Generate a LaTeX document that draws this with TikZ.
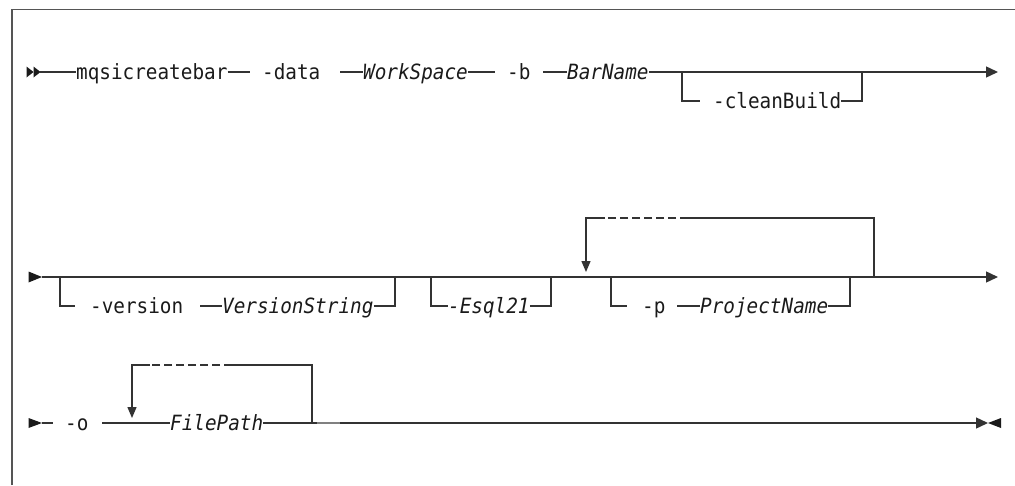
\documentclass[tikz,border=0pt]{standalone}
\usepackage{fontspec}
\newfontfamily\rrfont[FakeStretch=0.92]{DejaVu Sans Mono}
\usetikzlibrary{arrows.meta}
\definecolor{ln}{HTML}{333333}
\definecolor{tx}{HTML}{1A1A1A}
\definecolor{fr}{HTML}{555555}
\tikzset{
  kw/.style={font=\rrfont\fontsize{21}{24}\selectfont, text=tx, inner sep=0pt, text height=14pt, text depth=0pt, anchor=west},
  var/.style={kw, font=\rrfont\itshape\fontsize{21}{24}\selectfont},
  rail/.style={draw=ln, line width=1.4pt},
  endarrow/.style={rail, -{Triangle[width=11pt,length=12pt]}},
  downarrow/.style={rail, -{Triangle[width=9pt,length=11pt]}},
  dashes/.style={draw=ln, line width=2pt, dash pattern=on 8pt off 4pt},
  tip/.style={fill=tx},
}
\begin{document}
\begin{tikzpicture}[x=1pt,y=-1pt]
\useasboundingbox (0,0) rectangle (1015,485);
% frame
\draw[fr, line width=1.4pt] (12,485) -- (12,9.5) -- (1015,9.5);

% ---------- row 1 ----------
\fill[tip] (26.5,66.5) -- (33.5,72) -- (26.5,77.5) -- cycle;
\fill[tip] (33.5,66.5) -- (40.5,72) -- (33.5,77.5) -- cycle;
\coordinate (s1) at (40,72);
\node[kw] (mq) at (76,72) {mqsicreatebar};
\coordinate (d0) at (250,72);
\node[kw] (data) at (262,72) {-data};
\coordinate (w0) at (340,72);
\node[var] (ws) at (363,72) {WorkSpace};
\coordinate (b0) at (495,72);
\node[kw] (b) at (507,72) {-b};
\coordinate (bn0) at (543,72);
\node[var] (bn) at (567,72) {BarName};
\coordinate (e1) at (998,72);
\draw[rail] (s1) -- (mq.west);
\draw[rail] (mq.east) -- (d0);
\draw[rail] (w0) -- (ws.west);
\draw[rail] (ws.east) -- (b0);
\draw[rail] (bn0) -- (bn.west);
\draw[endarrow] (bn.east) -- (e1);
% optional -cleanBuild
\coordinate (cb1) at (682,72);
\coordinate (cb2) at (862,72);
\coordinate (cbL) at (700,101);
\node[kw] (cb) at (713,101) {-cleanBuild};
\draw[rail] (cb1) |- (cbL);
\draw[rail] (cb.east) -| (cb2);

% ---------- row 2 ----------
\fill[tip] (28.5,271.5) -- (42,277) -- (28.5,282.5) -- cycle;
\coordinate (s2) at (42,277);
\coordinate (e2) at (998,277);
\draw[endarrow] (s2) -- (e2);
% -version
\coordinate (v1) at (60,277);
\coordinate (vL) at (75,306);
\node[kw] (ver) at (90,306) {-version};
\coordinate (vs0) at (200,306);
\node[var] (vs) at (222,306) {VersionString};
\coordinate (v2) at (395,277);
\draw[rail] (v1) |- (vL);
\draw[rail] (vs0) -- (vs.west);
\draw[rail] (vs.east) -| (v2);
% -Esql21
\coordinate (E1) at (431,277);
\node[var] (esql) at (448,306) {-Esql21};
\coordinate (E2) at (551,277);
\draw[rail] (E1) |- (esql.west);
\draw[rail] (esql.east) -| (E2);
% repeat loop
\coordinate (L1) at (586,272);
\coordinate (Ld1) at (605,218);
\coordinate (Ld2) at (688,218);
\coordinate (L2) at (874,277);
\draw[rail] (L2) |- (Ld2);
\draw[dashes] (Ld2) -- (Ld1);
\draw[downarrow] (Ld1) -| (L1);
% -p ProjectName
\coordinate (P1) at (611,277);
\coordinate (PL) at (627,306);
\node[kw] (p) at (642,306) {-p};
\coordinate (pn0) at (677,306);
\node[var] (pn) at (700,306) {ProjectName};
\coordinate (P2) at (850,277);
\draw[rail] (P1) |- (PL);
\draw[rail] (pn0) -- (pn.west);
\draw[rail] (pn.east) -| (P2);

% ---------- row 3 ----------
\fill[tip] (28.5,418) -- (42,423) -- (28.5,428) -- cycle;
\coordinate (s3) at (42,423);
\coordinate (s3b) at (53,423);
\draw[rail] (s3) -- (s3b);
\node[kw] (o) at (65,423) {-o};
\coordinate (f0) at (102,423);
\node[var] (fp) at (170,423) {FilePath};
\coordinate (e3) at (988,423);
\draw[rail] (f0) -- (fp.west);
\draw[endarrow] (fp.east) -- (e3);
\fill[tip] (988,423) -- (1001,418) -- (1001,428) -- cycle;
% repeat loop
\coordinate (F2) at (312,423);
\coordinate (Fd2) at (232,365);
\coordinate (Fd1) at (150,365);
\coordinate (F1) at (132,418);
\draw[rail] (F2) |- (Fd2);
\draw[dashes] (Fd2) -- (Fd1);
\draw[downarrow] (Fd1) -| (F1);
\coordinate (g1) at (317,423);
\coordinate (g2) at (340,423);
\draw[gray, line width=2.2pt] (g1) -- (g2);
\end{tikzpicture}
\end{document}
